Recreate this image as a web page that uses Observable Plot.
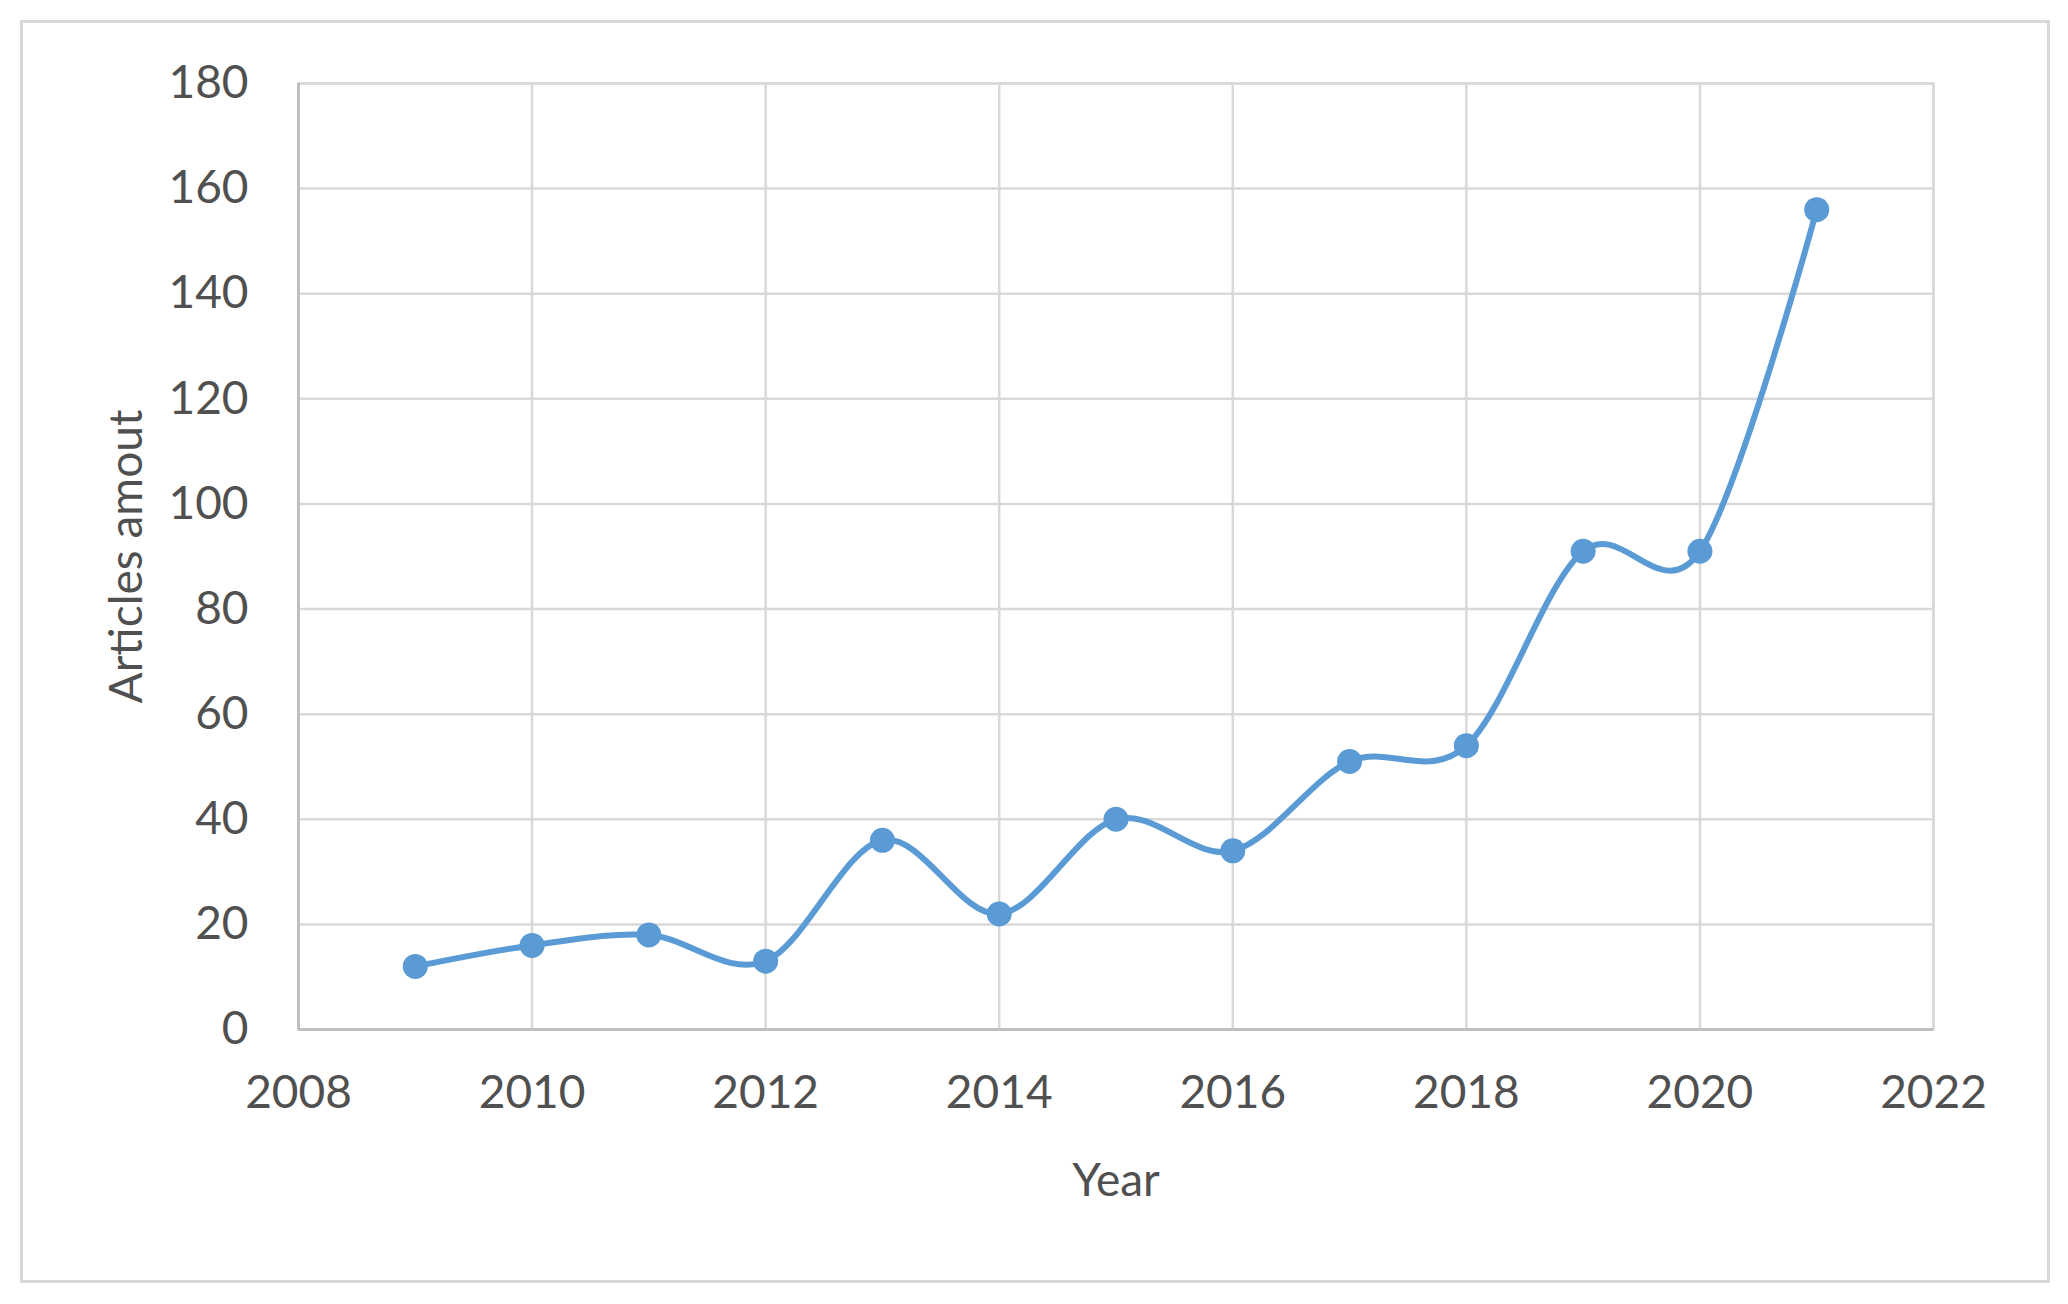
<!DOCTYPE html>
<html>
<head>
<meta charset="utf-8">
<script src="https://cdn.jsdelivr.net/npm/d3@7"></script>
<script src="https://cdn.jsdelivr.net/npm/@observablehq/plot@0.6"></script>
<style>
  html, body { margin: 0; padding: 0; background: #ffffff; }
  #wrap { position: relative; width: 2068px; height: 1304px; overflow: hidden; }
  #border { position: absolute; left: 20px; top: 20px; width: 2024px; height: 1257px; border: 3px solid #d9d9d9; }
  #chart { position: absolute; left: 0; top: 0; }
</style>
</head>
<body>
<div id="wrap"><div id="border"></div><div id="chart"></div></div>
<script>
const years = [2009, 2010, 2011, 2012, 2013, 2014, 2015, 2016, 2017, 2018, 2019, 2020, 2021];
const articles = [12, 16, 18, 13, 36, 22, 40, 34, 51, 54, 91, 91, 156];
const xTicks = [2008, 2010, 2012, 2014, 2016, 2018, 2020, 2022];
const yTicks = [0, 20, 40, 60, 80, 100, 120, 140, 160, 180];

const data = years.map((y, i) => ({year: y, value: articles[i]}));

const blue = "#5b9bd5";
const grid = "#d9d9d9";

const chart = Plot.plot({
  width: 2068,
  height: 1304,
  marginLeft: 298,
  marginRight: 135,
  marginTop: 83,
  marginBottom: 275,
  style: {fontFamily: "Lato, 'Open Sans', sans-serif", fontSize: "46px", color: "#505050", background: "transparent"},
  x: {domain: [2008, 2022], ticks: xTicks, tickFormat: "d"},
  y: {domain: [0, 180], ticks: yTicks},
  marks: [
    Plot.gridY(yTicks, {stroke: grid, strokeOpacity: 1, strokeWidth: 2.5}),
    Plot.gridX(xTicks, {stroke: grid, strokeOpacity: 1, strokeWidth: 2.5}),
    Plot.frame({stroke: grid, strokeWidth: 2.5}),
    Plot.ruleY([0], {stroke: "#bfbfbf", strokeWidth: 3}),
    Plot.ruleX([2008], {stroke: "#bfbfbf", strokeWidth: 3}),
    Plot.axisX(xTicks, {tickSize: 0, tickPadding: 46, tickFormat: "d", label: "Year", labelArrow: "none", labelAnchor: "center", labelOffset: 166}),
    Plot.axisY(yTicks, {tickSize: 0, tickPadding: 50, label: "Articles amout", labelArrow: "none", labelAnchor: "center", labelOffset: 189}),
    Plot.line(data, {x: "year", y: "value", stroke: blue, strokeWidth: 6, curve: "cardinal"}),
    Plot.dot(data, {x: "year", y: "value", fill: blue, r: 12.5})
  ]
});
document.getElementById("chart").appendChild(chart);
</script>
</body>
</html>
